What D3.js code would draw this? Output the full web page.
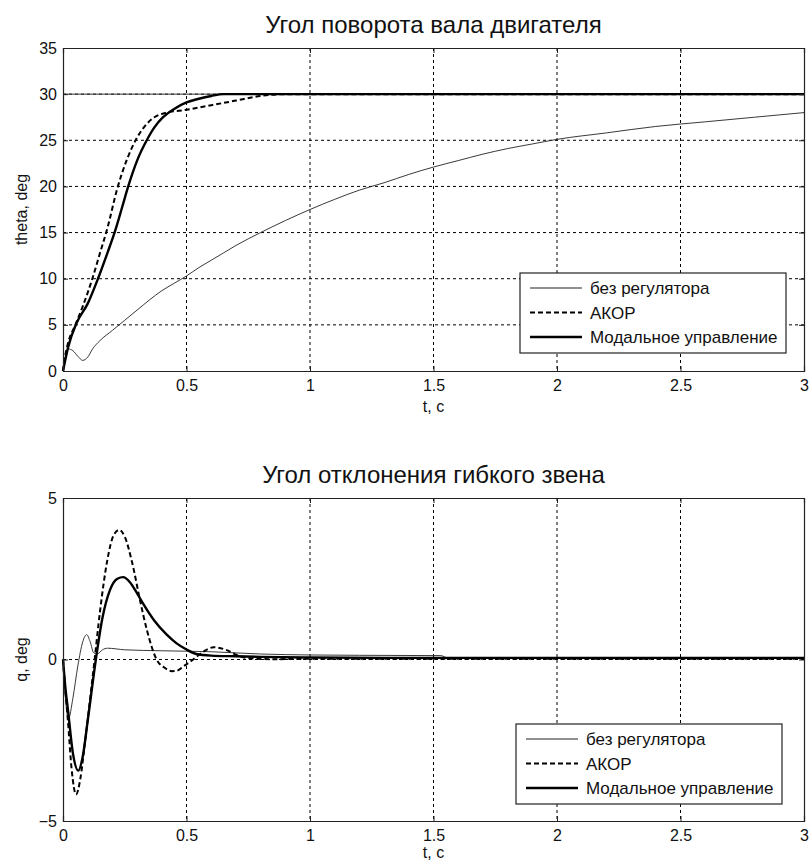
<!DOCTYPE html>
<html>
<head>
<meta charset="utf-8">
<script src="https://cdn.jsdelivr.net/npm/d3@7"></script>
<style>
  body { margin: 0; background: #fff; }
  svg text { font-family: "Liberation Sans", Arial, sans-serif; fill: #111; }
</style>
</head>
<body>
<div id="chart"></div>
<script>
// VARIABLES
var width = 809;
var height = 863;

var xTicks = [0, 0.5, 1, 1.5, 2, 2.5, 3];
var thetaTicks = [0, 5, 10, 15, 20, 25, 30, 35];
var qTicks = [-5, 0, 5];
var seriesNames = ["без регулятора", "АКОР", "Модальное управление"];

// theta, deg (top chart)
var thetaNoRegT = [0, 0.01, 0.02, 0.04, 0.06, 0.08, 0.1, 0.12, 0.15, 0.2, 0.25, 0.3, 0.35, 0.4, 0.45, 0.5, 0.55, 0.6, 0.65, 0.7, 0.8, 0.9, 1.0, 1.1, 1.2, 1.3, 1.4, 1.5, 1.6, 1.7, 1.8, 1.9, 2.0, 2.2, 2.4, 2.6, 2.8, 3.0];
var thetaNoReg = [0, 1.6, 2.4, 2.2, 1.6, 1.15, 1.5, 2.4, 3.3, 4.4, 5.5, 6.6, 7.7, 8.7, 9.5, 10.3, 11.2, 12.0, 12.8, 13.6, 15.0, 16.3, 17.5, 18.6, 19.6, 20.4, 21.3, 22.1, 22.8, 23.5, 24.1, 24.6, 25.1, 25.8, 26.5, 27.0, 27.5, 28.0];

var thetaAkorT = [0, 0.01, 0.02, 0.05, 0.08, 0.12, 0.15, 0.18, 0.22, 0.26, 0.3, 0.34, 0.37, 0.42, 0.5, 0.6, 0.7, 0.8, 0.9, 1.0, 3.0];
var thetaAkor = [0, 1.8, 3.0, 5.0, 7.0, 10.1, 12.8, 15.5, 19.8, 23.0, 25.3, 26.8, 27.5, 28.0, 28.3, 28.8, 29.3, 29.8, 30.0, 30.0, 30.0];

var thetaModT = [0, 0.01, 0.02, 0.055, 0.1, 0.143, 0.18, 0.21, 0.24, 0.264, 0.3, 0.339, 0.37, 0.405, 0.45, 0.5, 0.55, 0.6, 0.65, 0.7, 1.0, 3.0];
var thetaMod = [0, 1.3, 2.5, 5.2, 7.3, 10.1, 12.8, 15.1, 17.8, 20.0, 22.8, 25.0, 26.4, 27.5, 28.4, 29.1, 29.5, 29.8, 30.0, 30.0, 30.0, 30.0];

var thetaRefT = [0, 3];
var thetaRef = [30, 30];

// q, deg (bottom chart)
var qNoRegT = [0, 0.01, 0.022, 0.04, 0.06, 0.08, 0.096, 0.11, 0.125, 0.14, 0.16, 0.18, 0.25, 0.4, 0.6, 0.8, 1.0, 1.2, 1.53, 1.56, 2.0, 3.0];
var qNoReg = [0, -1.2, -1.84, -1.2, -0.2, 0.55, 0.77, 0.55, 0.2, 0.18, 0.3, 0.35, 0.3, 0.27, 0.24, 0.17, 0.14, 0.13, 0.12, 0.04, 0.03, 0.03];

var qAkorT = [0, 0.01, 0.02, 0.035, 0.053, 0.07, 0.09, 0.11, 0.128, 0.15, 0.18, 0.205, 0.228, 0.25, 0.28, 0.31, 0.34, 0.379, 0.41, 0.44, 0.46, 0.49, 0.527, 0.57, 0.61, 0.66, 0.7, 0.75, 0.85, 1.0, 3.0];
var qAkor = [0, -1.0, -1.9, -3.4, -4.18, -3.7, -2.5, -1.2, 0, 1.5, 3.1, 3.85, 4.01, 3.8, 3.0, 1.9, 0.9, 0, -0.25, -0.36, -0.35, -0.2, 0, 0.25, 0.38, 0.3, 0.15, 0.04, 0.01, 0.02, 0.02];

var qModT = [0, 0.01, 0.02, 0.04, 0.062, 0.08, 0.1, 0.133, 0.16, 0.19, 0.22, 0.244, 0.27, 0.3, 0.325, 0.37, 0.42, 0.46, 0.5, 0.54, 0.6, 0.7, 0.8, 1.0, 1.5, 3.0];
var qMod = [0, -0.9, -1.55, -2.9, -3.44, -3.0, -1.9, 0, 1.3, 2.15, 2.5, 2.55, 2.4, 2.05, 1.72, 1.2, 0.77, 0.5, 0.31, 0.17, 0.12, 0.1, 0.08, 0.06, 0.05, 0.05];

var svg = d3.select("#chart")
      .append("svg")
      .attr("width", width)
      .attr("height", height);

var xLeft = 63, xRight = 804;

var xScale = d3.scaleLinear()
      .domain([0, 3])
      .range([xLeft, xRight]);

// line styles: thin, dashed, thick
var styles = [
  {w: 0.9, dash: null, color: "#222"},
  {w: 2, dash: "5,3", color: "#000"},
  {w: 2.4, dash: null, color: "#000"}
];

// draw one panel of the figure
var drawPanel = function(cfg){
  var yScale = d3.scaleLinear()
        .domain(cfg.domain)
        .range([cfg.bottom, cfg.top]);

  var g = svg.append("g");

  // grid lines
  g.selectAll(".gx")
   .data(xTicks.slice(1, -1))
   .enter()
   .append("line")
   .attr("x1", function(d){ return xScale(d); })
   .attr("x2", function(d){ return xScale(d); })
   .attr("y1", cfg.top)
   .attr("y2", cfg.bottom)
   .attr("stroke", "#000")
   .attr("stroke-width", 1)
   .attr("stroke-dasharray", "3,3");

  g.selectAll(".gy")
   .data(cfg.ticks.slice(1, -1))
   .enter()
   .append("line")
   .attr("x1", xLeft)
   .attr("x2", xRight)
   .attr("y1", function(d){ return yScale(d); })
   .attr("y2", function(d){ return yScale(d); })
   .attr("stroke", "#000")
   .attr("stroke-width", 1)
   .attr("stroke-dasharray", "3,3");

  // curves
  cfg.series.forEach(function(s){
    var line = d3.line()
        .x(function(d){ return xScale(d[0]); })
        .y(function(d){ return yScale(d[1]); })
        .curve(d3.curveMonotoneX);
    g.append("path")
     .attr("d", line(d3.zip(s.t, s.v)))
     .attr("fill", "none")
     .attr("stroke", s.style.color)
     .attr("stroke-width", s.style.w)
     .attr("stroke-dasharray", s.style.dash);
  });

  // axes box with inward ticks
  var axB = d3.axisBottom(xScale).tickValues(xTicks).tickSize(-5).tickPadding(9)
              .tickFormat(function(d){ return d; });
  var axT = d3.axisTop(xScale).tickValues(xTicks).tickSize(-5).tickFormat("");
  var axL = d3.axisLeft(yScale).tickValues(cfg.ticks).tickSize(-5).tickPadding(6);
  var axR = d3.axisRight(yScale).tickValues(cfg.ticks).tickSize(-5).tickFormat("");

  g.append("g").attr("transform", "translate(0," + cfg.bottom + ")").call(axB);
  g.append("g").attr("transform", "translate(0," + cfg.top + ")").call(axT);
  g.append("g").attr("transform", "translate(" + xLeft + ",0)").call(axL);
  g.append("g").attr("transform", "translate(" + xRight + ",0)").call(axR);

  g.selectAll(".domain").attr("stroke", "#222").attr("stroke-width", 1.2);
  g.selectAll(".tick line").attr("stroke", "#222");
  g.selectAll(".tick text")
   .attr("font-size", "16px")
   .attr("font-family", "Liberation Sans, Arial, sans-serif")
   .attr("fill", "#111");

  // title and labels
  g.append("text")
   .attr("x", (xLeft + xRight) / 2)
   .attr("y", cfg.top - 15)
   .attr("text-anchor", "middle")
   .attr("font-size", "24px")
   .text(cfg.title);

  g.append("text")
   .attr("x", (xLeft + xRight) / 2)
   .attr("y", Math.min(cfg.bottom + 41, height - 5))
   .attr("text-anchor", "middle")
   .attr("font-size", "16px")
   .text("t, c");

  g.append("text")
   .attr("transform", "translate(27," + ((cfg.top + cfg.bottom) / 2) + ") rotate(-90)")
   .attr("text-anchor", "middle")
   .attr("font-size", "16px")
   .text(cfg.ylabel);

  // legend
  var lg = g.append("g").attr("transform", "translate(" + cfg.legend[0] + "," + cfg.legend[1] + ")");
  lg.append("rect")
    .attr("width", 266)
    .attr("height", 80)
    .attr("fill", "#fff")
    .attr("stroke", "#222")
    .attr("stroke-width", 1.2);

  seriesNames.forEach(function(name, i){
    var yy = 15 + i * 24.5;
    lg.append("line")
      .attr("x1", 10).attr("x2", 62)
      .attr("y1", yy).attr("y2", yy)
      .attr("stroke", styles[i].color)
      .attr("stroke-width", styles[i].w + 0.2)
      .attr("stroke-dasharray", styles[i].dash);
    lg.append("text")
      .attr("x", 70)
      .attr("y", yy + 6)
      .attr("font-size", "17px")
      .text(name);
  });
};

drawPanel({
  domain: [0, 35], ticks: thetaTicks, top: 48, bottom: 371,
  title: "Угол поворота вала двигателя", ylabel: "theta, deg",
  legend: [520, 273],
  series: [
    {t: thetaRefT, v: thetaRef, style: {w: 1, dash: null, color: "#333"}},
    {t: thetaNoRegT, v: thetaNoReg, style: styles[0]},
    {t: thetaAkorT, v: thetaAkor, style: styles[1]},
    {t: thetaModT, v: thetaMod, style: styles[2]}
  ]
});

drawPanel({
  domain: [-5, 5], ticks: qTicks, top: 498, bottom: 821,
  title: "Угол отклонения гибкого звена", ylabel: "q, deg",
  legend: [516, 724],
  series: [
    {t: qNoRegT, v: qNoReg, style: styles[0]},
    {t: qAkorT, v: qAkor, style: styles[1]},
    {t: qModT, v: qMod, style: styles[2]}
  ]
});
</script>
</body>
</html>
